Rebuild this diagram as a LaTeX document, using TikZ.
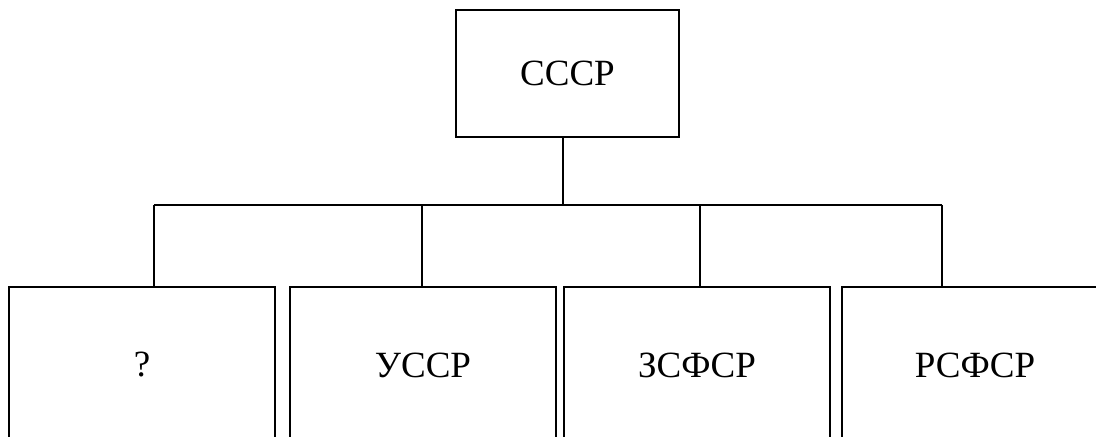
\documentclass[tikz,border=0pt]{standalone}
\usepackage{fontspec}
\setmainfont{Liberation Serif}
\usepackage{tikz}

\begin{document}
\begin{tikzpicture}[x=0.5pt, y=-0.5pt, line width=0.9pt,
  every node/.style={rectangle, draw, inner sep=0pt, font=\fontsize{18.5}{22}\selectfont},
  top/.style={minimum width=111.5pt, minimum height=63.5pt},
  rep/.style={minimum width=133pt, minimum height=78pt}]

\useasboundingbox (0,0) rectangle (1096,437);
\clip (0,0) rectangle (1096,437);

% Узлы
\node[top] (sssr) at (567.5,73.5) {СССР};
\node[rep] (q) at (142,365) {?};
\node[rep] (ussr) at (423,365) {УССР};
\node[rep] (zsfsr) at (697,365) {ЗСФСР};
\node[rep] (rsfsr) at (975,365) {РСФСР};

% Шина
\coordinate (bus) at (563,205);
\coordinate (d1) at (154,205);
\coordinate (d2) at (422,205);
\coordinate (d3) at (700,205);
\coordinate (d4) at (942,205);

% Линии
\draw (sssr.south -| bus) -- (bus);
\draw (d1) -- (d4);
\draw (d1) -- (d1 |- q.north);
\draw (d2) -- (d2 |- ussr.north);
\draw (d3) -- (d3 |- zsfsr.north);
\draw (d4) -- (d4 |- rsfsr.north);
\end{tikzpicture}
\end{document}
